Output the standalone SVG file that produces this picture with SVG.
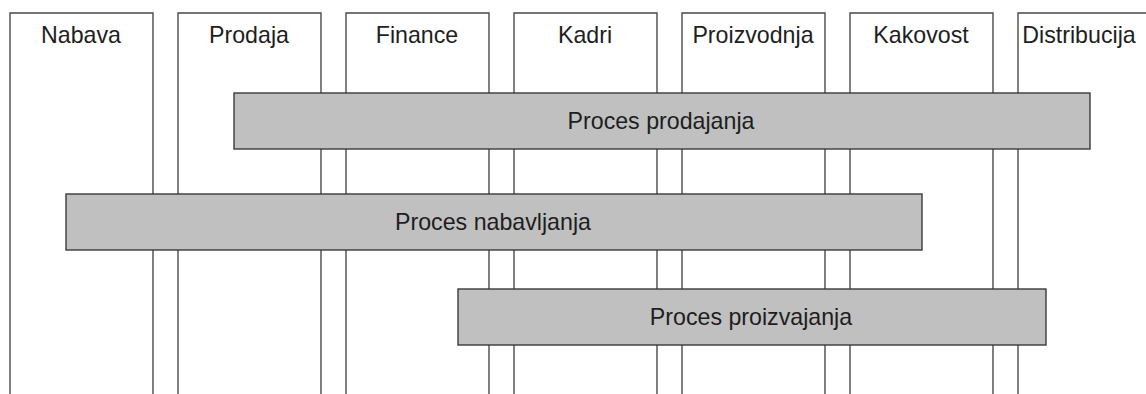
<svg xmlns="http://www.w3.org/2000/svg" width="1146" height="394" viewBox="0 0 1146 394">
  <style>
    .lane { fill: none; stroke: #4a4a4a; stroke-width: 1.4; }
    .proc { fill: #c0c0c0; stroke: #3a3a3a; stroke-width: 1.4; }
    .lbl { font-family: "Liberation Sans", Arial, sans-serif; font-size: 23.2px; fill: #1e1e1e; text-anchor: middle; }
  </style>
  <rect width="1146" height="394" fill="#ffffff"/>

  <!-- swimlanes: open at the bottom -->
  <g id="lane-nabava">
    <path class="lane" d="M10,394 V13 H153 V394"/>
    <text class="lbl" x="81" y="42.5">Nabava</text>
  </g>
  <g id="lane-prodaja">
    <path class="lane" d="M178,394 V13 H321 V394"/>
    <text class="lbl" x="249" y="42.5">Prodaja</text>
  </g>
  <g id="lane-finance">
    <path class="lane" d="M346,394 V13 H489 V394"/>
    <text class="lbl" x="417" y="42.5">Finance</text>
  </g>
  <g id="lane-kadri">
    <path class="lane" d="M514,394 V13 H657 V394"/>
    <text class="lbl" x="585" y="42.5">Kadri</text>
  </g>
  <g id="lane-proizvodnja">
    <path class="lane" d="M682,394 V13 H825 V394"/>
    <text class="lbl" x="753" y="42.5">Proizvodnja</text>
  </g>
  <g id="lane-kakovost">
    <path class="lane" d="M850,394 V13 H993 V394"/>
    <text class="lbl" x="921" y="42.5">Kakovost</text>
  </g>
  <g id="lane-distribucija">
    <path class="lane" d="M1018,394 V13 H1161 V394"/>
    <text class="lbl" x="1079" y="42.5">Distribucija</text>
  </g>

  <!-- processes spanning several lanes -->
  <g id="proc-prodajanja">
    <rect class="proc" x="234" y="93" width="856" height="56"/>
    <text class="lbl" x="661" y="128.5">Proces prodajanja</text>
  </g>
  <g id="proc-nabavljanja">
    <rect class="proc" x="66" y="194" width="856" height="56"/>
    <text class="lbl" x="493" y="229.5">Proces nabavljanja</text>
  </g>
  <g id="proc-proizvajanja">
    <rect class="proc" x="458" y="289" width="588" height="56"/>
    <text class="lbl" x="751" y="324.5">Proces proizvajanja</text>
  </g>
</svg>
